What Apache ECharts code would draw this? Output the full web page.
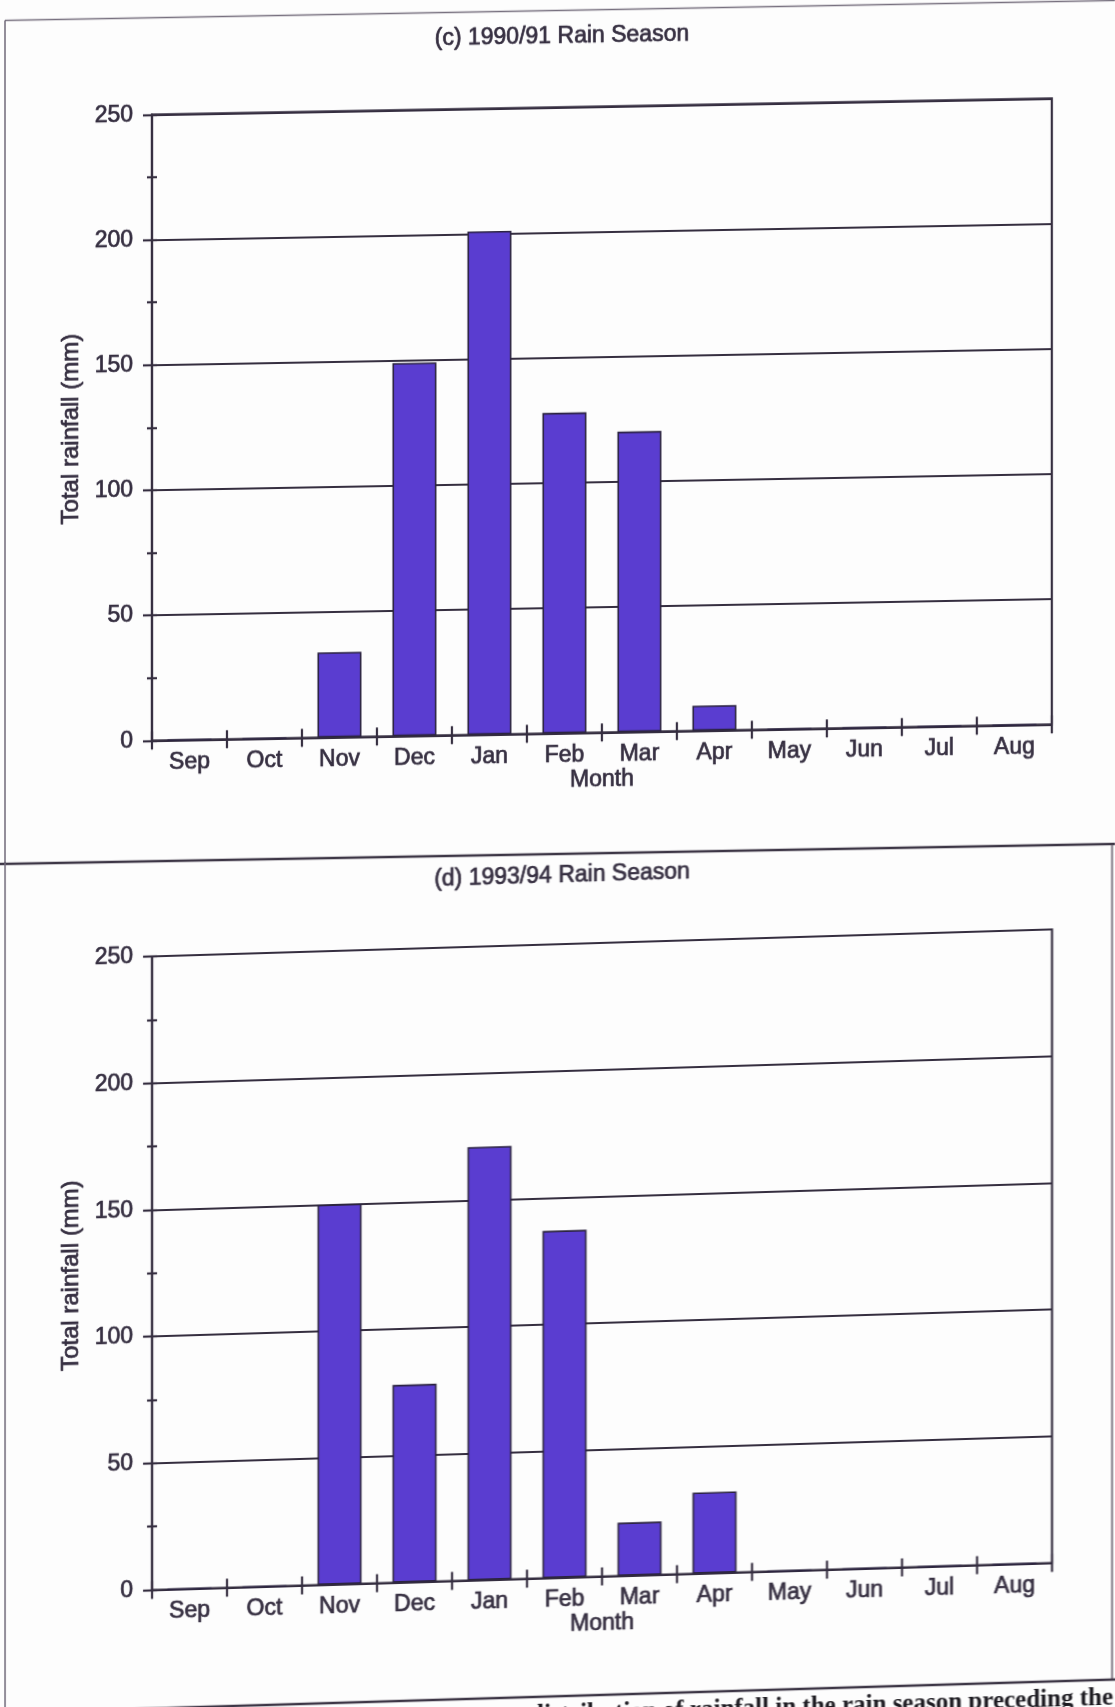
<!DOCTYPE html>
<html>
<head>
<meta charset="utf-8">
<title>Monthly rainfall by rain season</title>
<script src="https://cdn.jsdelivr.net/npm/echarts@6/dist/echarts.min.js"></script>
<style>
  html, body { margin: 0; padding: 0; width: 1115px; height: 1707px; overflow: hidden; background: #fdfdfd; }
  .panel { position: absolute; left: 0; top: 0; width: 1115px; height: 1760px; transform-origin: 0 0; }
  /* the printed page sits slightly askew, so each panel is sheared a little */
  #panelC { transform: skewY(-1.03deg); }
  #panelD { transform: skewY(-1.72deg); }
</style>
</head>
<body>
<div id="panelC" class="panel"></div>
<div id="panelD" class="panel"></div>
<script>
// Rain-season months, September to August
const months = ['Sep', 'Oct', 'Nov', 'Dec', 'Jan', 'Feb', 'Mar', 'Apr', 'May', 'Jun', 'Jul', 'Aug'];

// Total monthly rainfall (mm)
const rainfall1990_91 = [0, 0, 34, 149, 201, 128, 120, 10, 0, 0, 0, 0];
const rainfall1993_94 = [0, 0, 150, 78, 171, 137, 21, 32, 0, 0, 0, 0];

// Rainfall axis range and tick steps (mm)
const yMin = 0;
const yMax = 250;
const yMajorStep = 50;
const yMinorStep = 25;

const titles = {
  c: '(c) 1990/91 Rain Season',
  d: '(d) 1993/94 Rain Season'
};
const captionText = 'distribution of rainfall in the rain season preceding the';

const INK = '#352e40';
const BAR = '#5a3dd0';
const SANS = '"Liberation Sans", Arial, sans-serif';

// printed text is a little heavier than the plain regular face
function textStyle(size) {
  return { color: INK, fontFamily: SANS, fontSize: size, textBorderColor: INK, textBorderWidth: 0.7 };
}

function buildOption(p) {
  const line = { color: INK, width: 2.2 };
  return {
    backgroundColor: 'transparent',
    animation: false,
    grid: {
      left: 152, top: p.gridTop, width: 900, height: p.gridHeight,
      show: true, borderColor: INK, borderWidth: 2.2,
      outerBoundsMode: 'none', containLabel: false
    },
    xAxis: [
      {
        type: 'category', data: months, boundaryGap: true,
        axisLine: { show: true, onZero: true, lineStyle: line },
        axisTick: { show: true, interval: 0, length: 9, alignWithLabel: false, lineStyle: line },
        axisLabel: Object.assign({ interval: 0, margin: 11, hideOverlap: false }, textStyle(23)),
        splitLine: { show: false },
        name: 'Month', nameLocation: 'middle', nameGap: 34,
        nameTextStyle: textStyle(23)
      },
      {
        // upper half of the month-boundary ticks
        type: 'category', data: months, position: 'bottom', boundaryGap: true,
        axisLine: { show: false },
        axisTick: { show: true, inside: true, interval: 0, length: 9, lineStyle: line },
        axisLabel: { show: false },
        splitLine: { show: false }
      }
    ],
    yAxis: [
      {
        type: 'value', min: yMin, max: yMax, interval: yMajorStep,
        axisLine: { show: true, lineStyle: line },
        axisTick: { show: true, length: 9, lineStyle: line },
        minorTick: { show: true, splitNumber: 2, length: 5, lineStyle: line },
        splitLine: { show: true, lineStyle: line },
        axisLabel: Object.assign({ margin: 19 }, textStyle(23)),
        name: 'Total rainfall (mm)', nameLocation: 'middle', nameGap: 57,
        nameTextStyle: textStyle(24)
      },
      {
        // inner half of the 25 mm ticks
        type: 'value', min: yMin, max: yMax, interval: yMinorStep, position: 'left',
        axisLine: { show: false },
        axisTick: { show: true, inside: true, length: 5, lineStyle: line },
        axisLabel: { show: false },
        splitLine: { show: false }
      }
    ],
    series: [{
      type: 'bar', data: p.values, xAxisIndex: 0, yAxisIndex: 0,
      barWidth: 44,
      itemStyle: { color: BAR, borderColor: '#2b2340', borderWidth: 1.6 }
    }],
    graphic: p.graphic
  };
}

function titleText(x, y, text) {
  return {
    type: 'text', x: x, y: y,
    style: { text: text, fontFamily: SANS, fontSize: 23, fill: INK, stroke: INK, lineWidth: 0.7, align: 'center', verticalAlign: 'middle' }
  };
}

// Panel (c)
const chartC = echarts.init(document.getElementById('panelC'), null, { renderer: 'canvas' });
chartC.setOption(buildOption({
  gridTop: 117.3, gridHeight: 626, values: rainfall1990_91,
  graphic: [
    titleText(562, 47, titles.c),
    // frame around the figure: top edge, left edge
    { type: 'line', shape: { x1: 5, y1: 20.5, x2: 1125, y2: 20.5 }, style: { stroke: '#77707f', lineWidth: 1.5 } },
    { type: 'line', shape: { x1: 5, y1: 20.5, x2: 5, y2: 864 }, style: { stroke: '#6f6878', lineWidth: 1.5 } },
    // divider between the two panels
    { type: 'line', shape: { x1: 0, y1: 864, x2: 1125, y2: 864 }, style: { stroke: '#3d3646', lineWidth: 2.5 } }
  ]
}));

// Panel (d)
const chartD = echarts.init(document.getElementById('panelD'), null, { renderer: 'canvas' });
chartD.setOption(buildOption({
  gridTop: 961, gridHeight: 633.5, values: rainfall1993_94,
  graphic: [
    titleText(562, 893, titles.d),
    { type: 'line', shape: { x1: 5, y1: 862, x2: 5, y2: 1713 }, style: { stroke: '#6f6878', lineWidth: 1.5 } },
    { type: 'line', shape: { x1: 1112, y1: 878, x2: 1112, y2: 1713 }, style: { stroke: '#57505f', lineWidth: 1.5 } },
    { type: 'line', shape: { x1: 0, y1: 1713, x2: 1115, y2: 1713 }, style: { stroke: '#3d3646', lineWidth: 2.5 } },
    { type: 'text', x: 1113, y: 1744, style: { text: captionText, fontFamily: '"Liberation Serif", "Times New Roman", serif', fontWeight: 'bold', fontSize: 25, fill: '#1c1a20', align: 'right', verticalAlign: 'bottom' } }
  ]
}));
</script>
</body>
</html>
